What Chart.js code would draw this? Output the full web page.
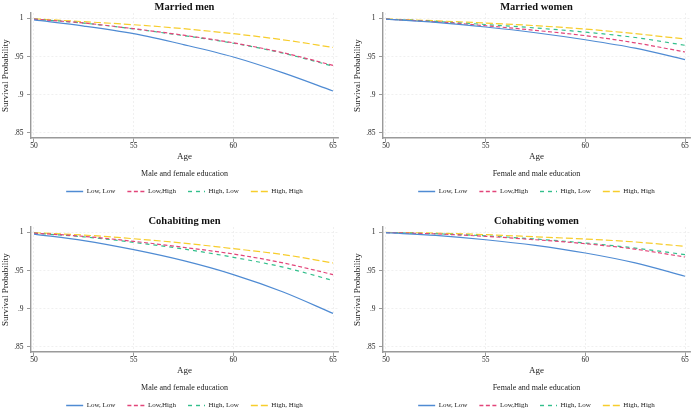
<!DOCTYPE html>
<html>
<head>
<meta charset="utf-8">
<script src="https://cdn.jsdelivr.net/npm/chart.js@4.4.0/dist/chart.umd.min.js"></script>
<style>
  html, body { margin: 0; padding: 0; background: #fff; width: 693px; height: 411px; overflow: hidden; }
  .panel { position: absolute; }
</style>
</head>
<body>
<div class="panel" style="left:0px;top:0px"><canvas id="marriedMen" width="346" height="205"></canvas></div>
<div class="panel" style="left:352px;top:0px"><canvas id="marriedWomen" width="341" height="205"></canvas></div>
<div class="panel" style="left:0px;top:214px"><canvas id="cohabMen" width="346" height="205"></canvas></div>
<div class="panel" style="left:352px;top:214px"><canvas id="cohabWomen" width="341" height="205"></canvas></div>

<script>
// ----------------------
// DATA
// ----------------------
const ages = [50, 52.5, 55, 57.5, 60, 62.5, 65];
const xTicks = [50, 55, 60, 65];
const yTicks = [0.85, 0.9, 0.95, 1];
const seriesLabels = ["Low, Low", "Low,High", "High, Low", "High, High"];

const marriedMenLowLow   = [0.998, 0.990, 0.980, 0.9657, 0.9495, 0.9287, 0.905];
const marriedMenLowHigh  = [0.999, 0.994, 0.9865, 0.978, 0.968, 0.955, 0.9385];
const marriedMenHighLow  = [0.999, 0.9938, 0.9862, 0.9775, 0.9675, 0.9545, 0.9375];
const marriedMenHighHigh = [0.9995, 0.9957, 0.9917, 0.9865, 0.980, 0.972, 0.962];

const marriedWomenLowLow   = [0.999, 0.9948, 0.9887, 0.9812, 0.972, 0.961, 0.946];
const marriedWomenLowHigh  = [0.999, 0.9955, 0.9904, 0.9843, 0.9774, 0.968, 0.956];
const marriedWomenHighLow  = [0.999, 0.996, 0.992, 0.9875, 0.982, 0.975, 0.9648];
const marriedWomenHighHigh = [0.9993, 0.9968, 0.9939, 0.9905, 0.986, 0.980, 0.973];

const cohabMenLowLow   = [0.9978, 0.9893, 0.9774, 0.963, 0.9448, 0.922, 0.894];
const cohabMenLowHigh  = [0.999, 0.9948, 0.9883, 0.9804, 0.9717, 0.960, 0.9448];
const cohabMenHighLow  = [0.999, 0.9942, 0.987, 0.9783, 0.9674, 0.9545, 0.937];
const cohabMenHighHigh = [0.9996, 0.9965, 0.9917, 0.986, 0.9787, 0.971, 0.960];

const cohabWomenLowLow   = [0.9996, 0.996, 0.9904, 0.983, 0.973, 0.960, 0.9426];
const cohabWomenLowHigh  = [0.9998, 0.998, 0.9948, 0.9904, 0.9852, 0.978, 0.9678];
const cohabWomenHighLow  = [0.9998, 0.9982, 0.9955, 0.9913, 0.9861, 0.9795, 0.9709];
const cohabWomenHighHigh = [1.0, 0.9991, 0.997, 0.9942, 0.9913, 0.9875, 0.9817];

// ----------------------
// STYLE
// ----------------------
const seriesColors = ["#4f8bd3", "#e2457a", "#33bf8c", "#f7cd2c"];
const seriesDash = [[], [4, 2.5], [4, 4], [7, 3]];
const serif = "'Liberation Serif', 'Times New Roman', serif";
const axisGray = "#9a9a9a";

// ----------------------
// PANEL BUILDER
// ----------------------
function makePanel(canvasId, title, legendTitle, series, padRight) {
  const datasets = series.map((values, i) => ({
    label: seriesLabels[i],
    data: ages.map((a, j) => ({ x: a, y: values[j] })),
    borderColor: seriesColors[i],
    backgroundColor: seriesColors[i],
    borderDash: seriesDash[i],
    borderWidth: 1.2,
    pointRadius: 0,
    cubicInterpolationMode: "monotone",
    fill: false,
  }));

  new Chart(document.getElementById(canvasId), {
    type: "line",
    data: { datasets },
    options: {
      responsive: false,
      animation: false,
      devicePixelRatio: 1,
      layout: { padding: { left: 0, right: padRight, top: 0, bottom: 0 } },
      scales: {
        x: {
          type: "linear",
          min: 49.85,
          max: 65.25,
          afterBuildTicks: (s) => { s.ticks = xTicks.map((v) => ({ value: v })); },
          afterFit: (s) => { s.height = 30.4; },
          ticks: { font: { family: serif, size: 7.5 }, color: "#222", padding: 0, maxRotation: 0, callback: (v) => String(v) },
          grid: { color: "#ececec", lineWidth: 0.8, tickColor: axisGray, tickLength: 4, tickWidth: 1 },
          border: { color: axisGray, width: 1.4, dash: [2, 2] },
          title: { display: true, text: "Age", font: { family: serif, size: 9 }, color: "#222", padding: { top: 0, bottom: 6.3 } },
        },
        y: {
          min: 0.8434,
          max: 1.007,
          afterBuildTicks: (s) => { s.ticks = yTicks.map((v) => ({ value: v })); },
          afterFit: (s) => { s.width = 31; },
          ticks: { font: { family: serif, size: 7.5 }, color: "#222", padding: 3.5,
                   callback: (v) => (v === 1 ? "1" : String(v).replace(/^0/, "")) },
          grid: { color: "#ececec", lineWidth: 0.8, tickColor: axisGray, tickLength: 4, tickWidth: 1 },
          border: { color: axisGray, width: 1.4, dash: [2, 2] },
          title: { display: true, text: "Survival Probability", font: { family: serif, size: 9 }, color: "#222", padding: { top: 0.5, bottom: 0 } },
        },
      },
      plugins: {
        title: {
          display: true, text: title, fullSize: false,
          font: { family: serif, size: 10.5, weight: "bold", lineHeight: 1.1 }, color: "#111",
          padding: { top: 1.5, bottom: 0 },
        },
        legend: {
          position: "bottom", fullSize: false,
          title: { display: true, text: legendTitle, font: { family: serif, size: 8 }, color: "#222", padding: { top: 2, bottom: -4 } },
          labels: {
            usePointStyle: true, pointStyle: "line", pointStyleWidth: 17,
            font: { family: serif, size: 7 }, color: "#222", padding: 12,
            // legend swatches: short line in each series' colour and dash
            generateLabels: (chart) => chart.data.datasets.map((ds, i) => ({
              text: ds.label,
              fillStyle: ds.borderColor,
              strokeStyle: ds.borderColor,
              fontColor: "#222",
              lineWidth: 1.4,
              lineDash: ds.borderDash,
              pointStyle: "line",
              hidden: false,
              datasetIndex: i,
            })),
          },
        },
        tooltip: { enabled: false },
      },
    },
  });
}

makePanel("marriedMen", "Married men", "Male and female education",
  [marriedMenLowLow, marriedMenLowHigh, marriedMenHighLow, marriedMenHighHigh], 8);
makePanel("marriedWomen", "Married women", "Female and male education",
  [marriedWomenLowLow, marriedWomenLowHigh, marriedWomenHighLow, marriedWomenHighHigh], 3);
makePanel("cohabMen", "Cohabiting men", "Male and female education",
  [cohabMenLowLow, cohabMenLowHigh, cohabMenHighLow, cohabMenHighHigh], 8);
makePanel("cohabWomen", "Cohabiting women", "Female and male education",
  [cohabWomenLowLow, cohabWomenLowHigh, cohabWomenHighLow, cohabWomenHighHigh], 3);
</script>
</body>
</html>
